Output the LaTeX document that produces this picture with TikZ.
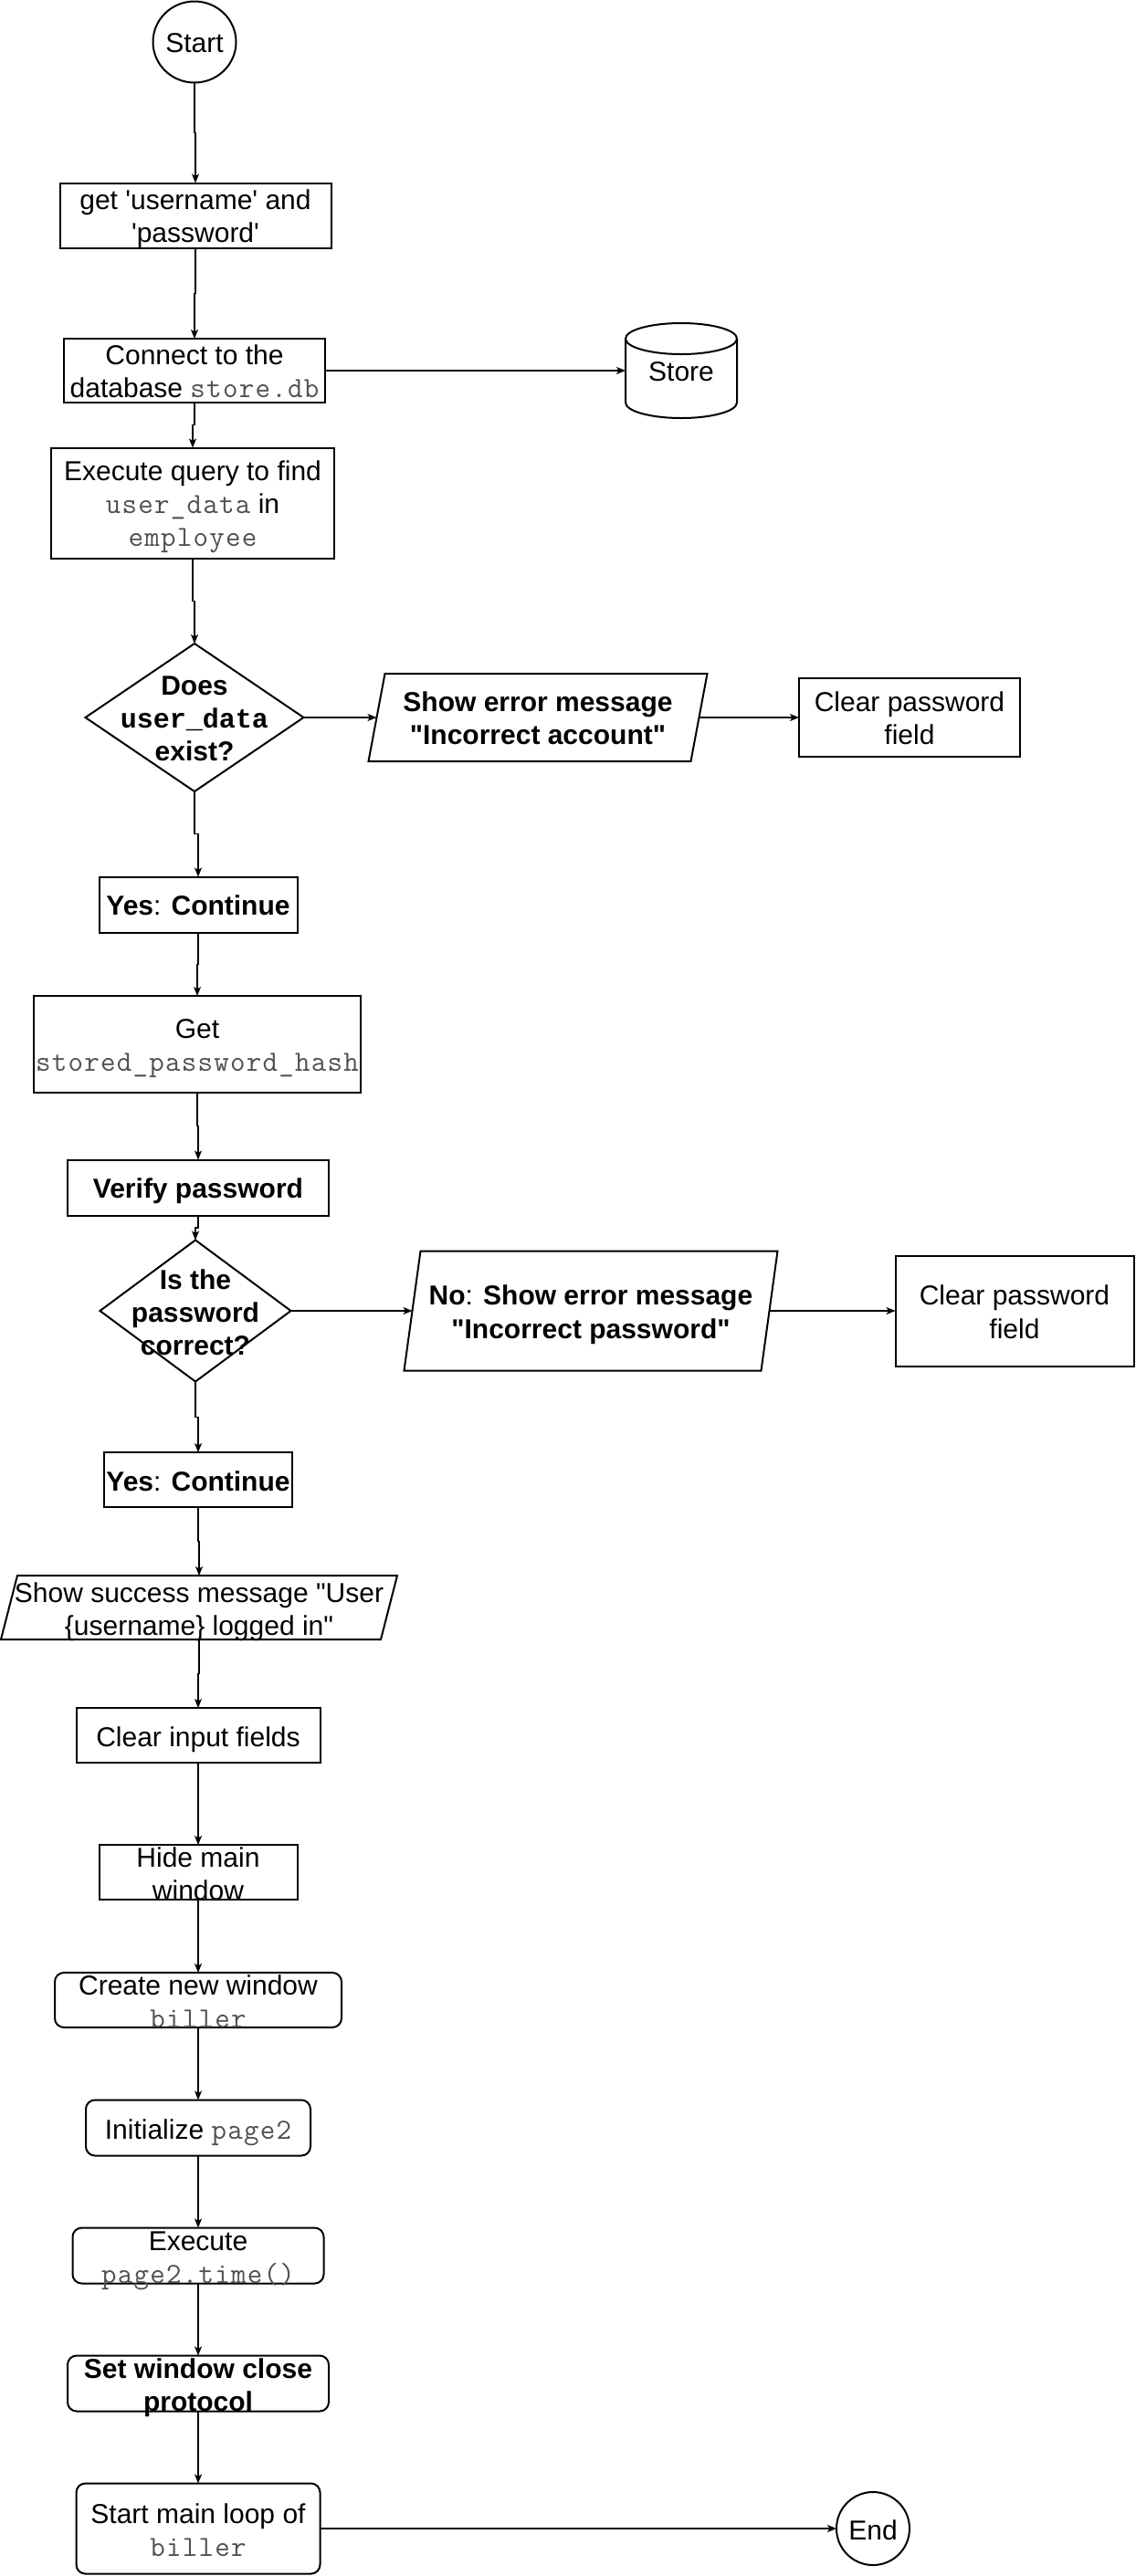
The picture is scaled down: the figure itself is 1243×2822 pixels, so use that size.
\documentclass[tikz,border=0pt]{standalone}
\usepackage{fontspec}
\setmainfont{Liberation Sans}
\newfontfamily\bmono{Liberation Mono}
\newfontfamily\cmono{Latin Modern Mono}[LetterSpace=4]
\usetikzlibrary{shapes.geometric,arrows.meta,calc}
\definecolor{codegray}{RGB}{80,80,80}
\newcommand\cd[1]{{\cmono\fontsize{32}{36}\selectfont\color{codegray}#1}}
\newcommand\dq{\textquotedbl}
\newcommand\ctext[1]{\smash{\raisebox{-11pt}{\begin{tabular}{@{}c@{}}#1\end{tabular}}}}
\newcommand\paraout[1]{\draw[shp] ([xshift=9pt]#1.north west) -- ([xshift=9pt]#1.north east) -- ([xshift=-9pt]#1.south east) -- ([xshift=-9pt]#1.south west) -- cycle;}
\tikzset{
  sz/.style 2 args={minimum width=#1pt, minimum height=#2pt},
  base/.style={inner sep=0pt, outer sep=0pt, font=\fontsize{30}{36}\selectfont, line width=2pt},
  box/.style={base, draw, rectangle},
  rbox/.style={box, rounded corners=10pt},
  term/.style={base, draw, ellipse},
  dec/.style={base, draw, diamond},
  para/.style={base, rectangle},
  db/.style={base, rectangle},
  shp/.style={line width=2pt, line join=miter},
  arr/.style={line width=1.3pt, -{Stealth[length=10pt,width=8pt,inset=2.5pt]}},
  vk/.style={to path={|- ($(\tikztostart)!0.5!(\tikztotarget)$) -| (\tikztotarget)}}
}
\begin{document}
\begin{tikzpicture}[x=1pt,y=1pt]
\fill[white] (0,0) rectangle (1243,-2822);
\useasboundingbox (0,0) rectangle (1243,-2822);

\node[term, sz={91}{89}] (start) at (213,-46) {\ctext{Start}};
\node[box, sz={297}{71}] (get) at (214,-236) {\ctext{get \textquotesingle username\textquotesingle{} and\\\textquotesingle password\textquotesingle}};
\node[box, sz={286}{70}] (conn) at (213,-406) {\ctext{Connect to the\\database \cd{store.db}}};
\node[db, sz={122}{104}] (store) at (746,-406) {\ctext{Store}};
\draw[shp] ([yshift=-17pt]store.north west) -- ([yshift=17pt]store.south west)
  arc[start angle=180, end angle=360, x radius=61pt, y radius=17pt]
  -- ([yshift=-17pt]store.north east)
  arc[start angle=0, end angle=180, x radius=61pt, y radius=17pt]
  arc[start angle=180, end angle=360, x radius=61pt, y radius=17pt];
\node[box, sz={310}{121}] (exec) at (211,-551) {\ctext{Execute query to find\\\cd{user\_data} in\\\cd{employee}}};
\node[dec, sz={239}{150}] (d1) at (213,-786) {\ctext{\textbf{Does}\\{\bmono\bfseries user\_data}\\\textbf{exist?}}};
\node[para, sz={353}{96}] (p1) at (589,-786) {\ctext{\textbf{Show error message}\\\textbf{\dq Incorrect account\dq}}};
\paraout{p1}
\node[box, sz={242}{86}] (c1) at (996,-786) {\ctext{Clear password\\field}};
\node[box, sz={217}{61}] (y1) at (217,-991) {\ctext{\textbf{Yes}: \textbf{Continue}}};
\node[box, sz={358}{106}] (gh) at (216,-1144) {\ctext{Get\\\cd{stored\_password\_hash}}};
\node[box, sz={286}{61}] (ver) at (217,-1301) {\ctext{\textbf{Verify password}}};
\node[dec, sz={209}{155}] (d2) at (214,-1436) {\ctext{\textbf{Is the}\\\textbf{password}\\\textbf{correct?}}};
\node[para, sz={391}{131}] (p2) at (647,-1436) {\ctext{\textbf{No}: \textbf{Show error message}\\\textbf{\dq Incorrect password\dq}}};
\paraout{p2}
\node[box, sz={261}{121}] (c2) at (1111,-1436) {\ctext{Clear password\\field}};
\node[box, sz={206}{60}] (y2) at (217,-1621) {\ctext{\textbf{Yes}: \textbf{Continue}}};
\node[para, sz={416}{70}] (succ) at (218,-1761) {\ctext{Show success message \dq User\\\{username\} logged in\dq}};
\paraout{succ}
\node[box, sz={267}{60}] (clr) at (217,-1901) {\ctext{Clear input fields}};
\node[box, sz={217}{60}] (hide) at (217,-2051) {\ctext{Hide main\\window}};
\node[rbox, sz={314}{60}] (create) at (217,-2191) {\ctext{Create new window\\\cd{biller}}};
\node[rbox, sz={246}{61}] (init) at (217,-2331) {\ctext{Initialize \cd{page2}}};
\node[rbox, sz={275}{61}] (exec2) at (217,-2471) {\ctext{Execute\\\cd{page2.time()}}};
\node[rbox, sz={286}{61}] (setw) at (217,-2611) {\ctext{\textbf{Set window close}\\\textbf{protocol}}};
\node[rbox, sz={267}{99}] (loop) at (217,-2770) {\ctext{Start main loop of\\\cd{biller}}};
\node[term, sz={80}{80}] (end) at (956,-2770) {\ctext{End}};

\draw[arr] (start.south) to[vk] (get.north);
\draw[arr] (get.south) to[vk] (conn.north);
\draw[arr] (conn.east) -- (store.west);
\draw[arr] (conn.south) to[vk] (exec.north);
\draw[arr] (exec.south) to[vk] (d1.north);
\draw[arr] (d1.east) -- (p1.west);
\draw[arr] (p1.east) -- (c1.west);
\draw[arr] (d1.south) to[vk] (y1.north);
\draw[arr] (y1.south) to[vk] (gh.north);
\draw[arr] (gh.south) to[vk] (ver.north);
\draw[arr] (ver.south) to[vk] (d2.north);
\draw[arr] (d2.east) -- (p2.west);
\draw[arr] (p2.east) -- (c2.west);
\draw[arr] (d2.south) to[vk] (y2.north);
\draw[arr] (y2.south) to[vk] (succ.north);
\draw[arr] (succ.south) to[vk] (clr.north);
\draw[arr] (clr.south) to[vk] (hide.north);
\draw[arr] (hide.south) to[vk] (create.north);
\draw[arr] (create.south) to[vk] (init.north);
\draw[arr] (init.south) to[vk] (exec2.north);
\draw[arr] (exec2.south) to[vk] (setw.north);
\draw[arr] (setw.south) to[vk] (loop.north);
\draw[arr] (loop.east) -- (end.west);
\end{tikzpicture}
\end{document}
